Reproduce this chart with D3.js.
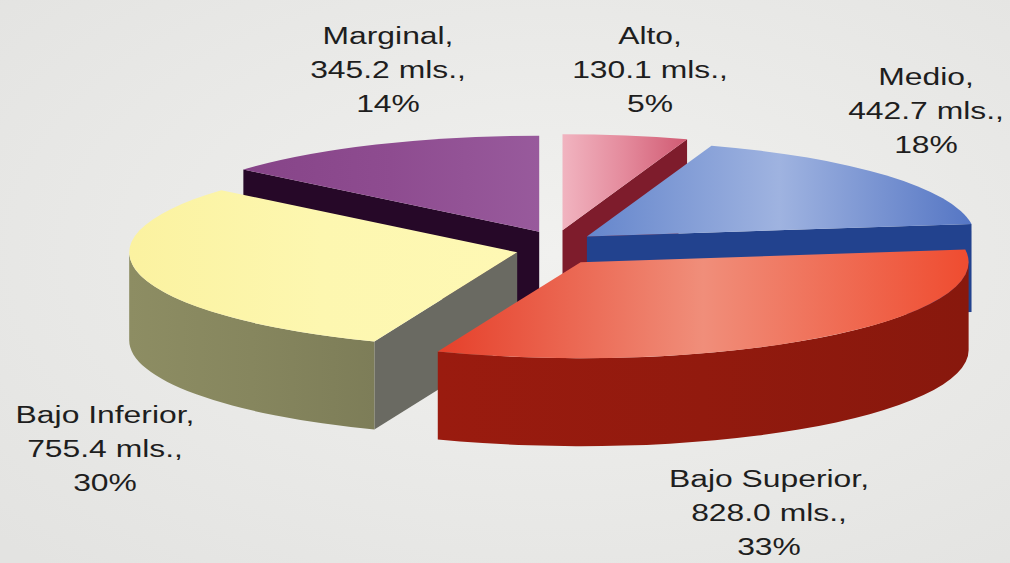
<!DOCTYPE html>
<html>
<head>
<meta charset="utf-8">
<script src="https://cdn.jsdelivr.net/npm/d3@7"></script>
<style>
  html, body { margin: 0; padding: 0; background: #ebebe9; }
  svg { display: block; }
</style>
</head>
<body>
<svg id="chart" width="1010" height="563"></svg>
<script>
// data
const categories = ["Alto", "Medio", "Bajo Superior", "Bajo Inferior", "Marginal"];
const values = [130.1, 442.7, 828.0, 755.4, 345.2];
const unit = "mls.";

// style / layout
const W = 1010, H = 563;
const cx = 556, cy = 248, rx = 388, ry = 96, depth = 88;
const ex = 40, ey = 18; // explode
const topColors = [
  ["#f1b4c0", "#e48a9c", "#d05a72"],
  ["#6586cc", "#9fb3e0", "#5576c4"],
  ["#e6402a", "#f08e7a", "#ef4c30"],
  ["#fbf2a0", "#fdf7b0", "#fef8b4"],
  ["#864488", "#8e4c90", "#985a9c"]
];
const sideColors = ["#7e1c2c", "#26489a", "#921a0e", "#86865e", "#2a0a2c"];
const cutColors  = ["#7e1c2c", "#22428e", "#8a160c", "#6a6a62", "#260828"];
const labelPos = [[650, 44], [926, 85], [769, 487], [105, 423], [388, 44]];
const lineH = 34;

const svg = d3.select("#chart");
const defs = svg.append("defs");

const bg = defs.append("radialGradient").attr("id", "bg").attr("cx", "55%").attr("cy", "45%").attr("r", "75%");
bg.append("stop").attr("offset", "0%").attr("stop-color", "#f1f1ef");
bg.append("stop").attr("offset", "100%").attr("stop-color", "#e3e3e1");
svg.append("rect").attr("width", W).attr("height", H).attr("fill", "url(#bg)");

const total = d3.sum(values);
const pie = d3.pie().sort(null).value(d => d)(values);

function grad(id, cols) {
  const g = defs.append("linearGradient").attr("id", id)
    .attr("x1", "0%").attr("x2", "100%").attr("y1", "0%").attr("y2", "0%");
  cols.forEach((c, i) => g.append("stop")
    .attr("offset", (i / (cols.length - 1) * 100) + "%").attr("stop-color", c));
}

const slices = pie.map((p, i) => {
  const mid = (p.startAngle + p.endAngle) / 2;
  return {
    i, a0: p.startAngle, a1: p.endAngle, mid,
    ox: ex * Math.sin(mid), oy: -ey * Math.cos(mid)
  };
});

// back to front
slices.sort((a, b) => (a.oy - ry * Math.cos(a.mid)) - (b.oy - ry * Math.cos(b.mid)));

const g = svg.append("g");

slices.forEach(s => {
  const i = s.i;
  const pt = (a, dz = 0) => [cx + s.ox + rx * Math.sin(a), cy + s.oy - ry * Math.cos(a) + dz];
  const c0 = [cx + s.ox, cy + s.oy];
  const c1 = [c0[0], c0[1] + depth];
  const P = p => p[0].toFixed(2) + "," + p[1].toFixed(2);

  grad("top" + i, topColors[i]);
  grad("side" + i, [d3.color(sideColors[i]).brighter(0.15), sideColors[i], d3.color(sideColors[i]).darker(0.2)]);

  const sg = g.append("g").attr("class", "slice");

  // cut walls
  const cuts = [];
  if (Math.sin(s.a0) < -1e-6) cuts.push(s.a0);
  if (Math.sin(s.a1) > 1e-6) cuts.push(s.a1);
  cuts.forEach(a => {
    sg.append("path")
      .attr("d", `M${P(c0)}L${P(pt(a))}L${P(pt(a, depth))}L${P(c1)}Z`)
      .attr("fill", cutColors[i]);
  });

  // outer wall (front half only)
  const t1 = Math.max(s.a0, Math.PI / 2), t2 = Math.min(s.a1, 3 * Math.PI / 2);
  if (t2 > t1) {
    sg.append("path")
      .attr("d", `M${P(pt(t1))}A${rx},${ry} 0 0 1 ${P(pt(t2))}` +
                 `L${P(pt(t2, depth))}A${rx},${ry} 0 0 0 ${P(pt(t1, depth))}Z`)
      .attr("fill", `url(#side${i})`);
  }

  // top face
  const large = s.a1 - s.a0 > Math.PI ? 1 : 0;
  sg.append("path")
    .attr("d", `M${P(c0)}L${P(pt(s.a0))}A${rx},${ry} 0 ${large} 1 ${P(pt(s.a1))}Z`)
    .attr("fill", `url(#top${i})`);
});

// labels
const fmt = d3.format(".1f");
categories.forEach((name, i) => {
  const lines = [name + ",", fmt(values[i]) + " " + unit + ",", Math.round(values[i] / total * 100) + "%"];
  const t = svg.append("g")
    .attr("transform", `translate(${labelPos[i][0]},${labelPos[i][1]}) scale(1.3,1)`)
    .append("text")
    .attr("text-anchor", "middle")
    .attr("font-family", "'Liberation Sans', Arial, sans-serif")
    .attr("font-size", 24.5)
    .attr("fill", "#1e1e1e");
  lines.forEach((l, k) => t.append("tspan").attr("x", 0).attr("y", k * lineH).text(l));
});
</script>
</body>
</html>
